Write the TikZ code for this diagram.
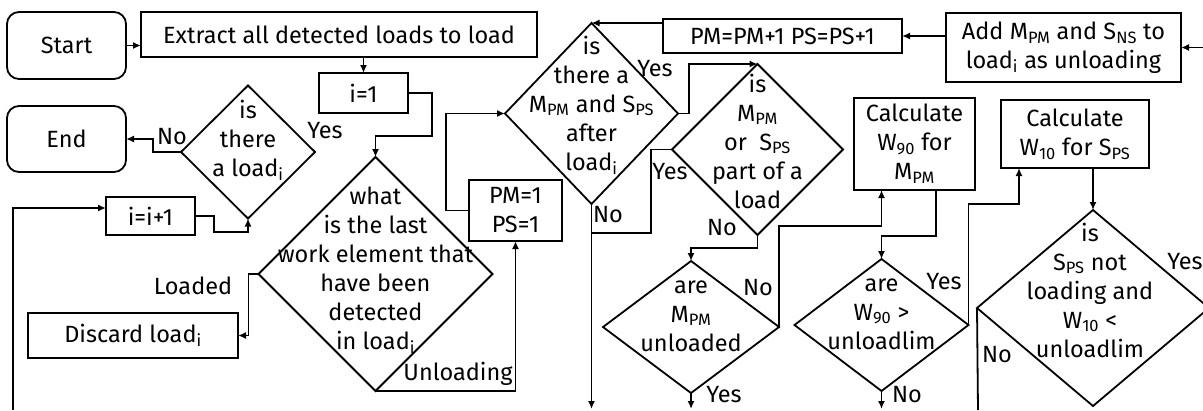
\documentclass[tikz,border=0pt]{standalone}
\usepackage{fontspec}
\setmainfont{Fira Sans}
\usetikzlibrary{arrows.meta,shapes.geometric,calc}
\newcommand\lo[1]{\textsubscript{#1}}

\begin{document}
\begin{tikzpicture}[x=1pt,y=-1pt,
  every node/.style={font=\fontsize{23.5}{29}\selectfont, inner sep=0pt, outer sep=0pt},
  flow/.style={line width=1.8pt, -{Latex[length=8pt,width=7pt]}},
  plain/.style={line width=1.8pt},
  proc/.style={draw, line width=1.8pt, align=center},
  term/.style={proc, rounded corners=12pt},
  dec/.style={draw, diamond, line width=1.8pt},
  txt/.style={align=center}
]
\clip (0,0) rectangle (1203,410);
\fill[white] (0,0) rectangle (1203,410);

% terminals and process boxes
\node[term, minimum width=119, minimum height=67] (start) at (66.5,45.5) {Start};
\node[term, minimum width=119, minimum height=66] (end) at (66.5,139) {End};
\node[proc, minimum width=396, minimum height=45] (extract) at (339,34.5) {Extract all detected loads to load};
\node[proc, minimum width=89, minimum height=40] (ione) at (363.5,93) {i=1};
\node[proc, minimum width=89, minimum height=38] (inext) at (150.5,216) {i=i+1};
\node[proc, minimum width=210, minimum height=45] (discard) at (133,335.5) {Discard load\lo{i}};
\node[proc, minimum width=93, minimum height=61] (pmone) at (515.5,210.5) {PM=1\\PS=1};
\node[proc, minimum width=239, minimum height=34] (pmnext) at (782.5,36) {PM=PM+1 PS=PS+1};
\node[proc, minimum width=235, minimum height=69] (add) at (1063.5,47.5) {Add M\lo{PM} and S\lo{NS} to\\load\lo{i} as unloading};
\node[proc, minimum width=121, minimum height=92] (wninety) at (914.5,144) {Calculate\\W\lo{90} for\\M\lo{PM}};
\node[proc, minimum width=148, minimum height=68] (wten) at (1075,134) {Calculate\\W\lo{10} for S\lo{PS}};

% decisions
\node[dec, minimum width=134, minimum height=133] (dload) at (248,152) {};
\node[txt] (tload) at (248,140) {is\\there\\a load\lo{i}};
\node[dec, minimum width=234, minimum height=234] (dlast) at (375.5,274) {};
\node[txt] (tlast) at (375.5,270) {what\\is the last\\work element that\\have been\\detected\\in load\lo{i}};
\node[dec, minimum width=173, minimum height=181] (dafter) at (591.5,113.5) {};
\node[txt] (tafter) at (591.5,105) {is\\there a\\M\lo{PM} and S\lo{PS}\\after\\load\lo{i}};
\node[dec, minimum width=171, minimum height=171] (dpart) at (757.5,149.5) {};
\node[txt] (tpart) at (757.5,141) {is\\M\lo{PM}\\or\ \ S\lo{PS}\\part of a\\load};
\node[dec, minimum width=176, minimum height=132] (dunl) at (691,327) {};
\node[txt] (tunl) at (691,316) {are\\M\lo{PM}\\unloaded};
\node[dec, minimum width=174, minimum height=132] (dw90) at (881.5,325) {};
\node[txt] (tw90) at (881.5,314) {are\\W\lo{90} >\\unloadlim};
\node[dec, minimum width=232, minimum height=196] (dw10) at (1093,308) {};
\node[txt] (tw10) at (1090,290) {is\\S\lo{PS} not\\loading and\\W\lo{10} <\\unloadlim};

% free ends at the border
\coordinate (loopin) at (13,410);
\coordinate (addin) at (1203,47.5);
\coordinate (join) at (591.5,233);
\coordinate (outa) at (591.5,409);
\coordinate (outb) at (691,409);
\coordinate (outc) at (881.5,409);
\coordinate (outd) at (978,410);

% connectors
\draw[flow] (start.east) -- (start.east -| extract.west);
\draw[flow] (ione.north |- extract.south) -- (ione.north);
\draw[flow] (ione.east) -- ++(24,0) -- ++(0,43) -| (dlast.north);
\draw[flow] (dload.west) -- ++(-28,0) |- (end.east);
\draw[flow] (loopin) |- ([yshift=8pt]inext.west);
\draw[flow] (inext.east) -- ++(19,0) -- ++(0,16) -| (dload.south);
\draw[flow] (dlast.west) -- ++(-10,0) |- (discard.east);
\draw[flow] (dlast.south) -| (pmone.south);
\draw[flow] (pmone.west) -- ++(-23,0) |- (dafter.west);
\draw[flow] (pmnext.west |- dafter.north) -- (dafter.north);
\draw[flow] (add.west |- pmnext.east) -- (pmnext.east);
\draw[flow] (addin) -- (add.east);
\draw[flow] (dafter.east) -- ++(11,0) |- (dpart.north);
\draw[flow] (dafter.south) -- (outa);
\draw[plain] (dpart.west) -- ++(-21,0) |- (join);
\draw[flow] (dpart.south) -- ++(0,13) -| (dunl.north);
\draw[flow] (dunl.south) -- (outb);
\draw[flow] (dunl.east) -- ++(0,-101) -| (dw90.north |- wninety.south);
\draw[flow] ([xshift=21.5pt]wninety.south) -- ++(0,46) -| (dw90.north);
\draw[flow] (dw90.south) -- (outc);
\draw[flow] (dw90.east) -- ++(0,-121) -| ([xshift=-56pt]wten.south);
\draw[flow] (dw10.north |- wten.south) -- (dw10.north);
\draw[plain] (dw10.west) -- (outd);

% branch labels
\node (l1) at (172,137) {No};
\node (l2) at (325,131) {Yes};
\node (l3) at (193,286) {Loaded};
\node (l4) at (458,374) {Unloading};
\node (l5) at (655,69) {Yes};
\node (l6) at (608,215) {No};
\node (l7) at (670,172) {Yes};
\node (l8) at (722,228) {No};
\node (l9) at (758,288) {No};
\node (l10) at (724,395) {Yes};
\node (l11) at (944,282) {Yes};
\node (l12) at (907,395) {No};
\node (l13) at (997,355) {No};
\node (l14) at (1185,262) {Yes};
\end{tikzpicture}
\end{document}
